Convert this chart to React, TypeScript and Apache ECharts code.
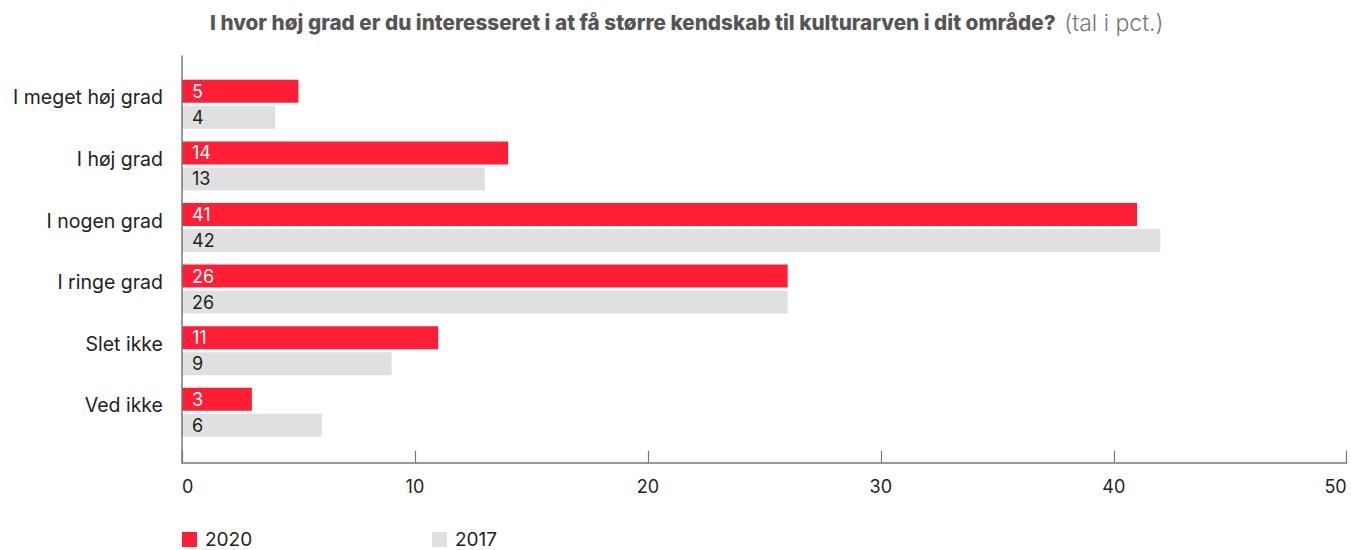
import React, { useEffect, useRef } from "react";
import * as echarts from "echarts";

const categories = [
  "I meget høj grad",
  "I høj grad",
  "I nogen grad",
  "I ringe grad",
  "Slet ikke",
  "Ved ikke",
];
const values2020 = [5, 14, 41, 26, 11, 3];
const values2017 = [4, 13, 42, 26, 9, 6];
const seriesNames = ["2020", "2017"];
const xMin = 0;
const xMax = 50;
const xInterval = 10;

const FONT = "Inter";

export default function App() {
  const ref = useRef<HTMLDivElement>(null);
  useEffect(() => {
    if (!ref.current) return;
    const chart = echarts.init(ref.current, undefined, { renderer: "svg" });
    const axisColor = "#777";
    chart.setOption({
      animation: false,
      textStyle: { fontFamily: FONT },
      title: {
        left: 210,
        top: 11,
        padding: 0,
        text: "{b|I hvor høj grad er du interesseret i at få større kendskab til kulturarven i dit område?}  {r|(tal i pct.)}",
        textStyle: {
          rich: {
            b: { fontFamily: FONT, fontWeight: 800, fontSize: 20.7, color: "#555" },
            r: { fontFamily: FONT, fontWeight: 300, fontSize: 23, color: "#777" },
          },
        },
      },
      legend: {
        left: 182,
        top: 530,
        padding: 0,
        icon: "rect",
        itemWidth: 15,
        itemHeight: 15,
        itemGap: 167,
        data: seriesNames,
        textStyle: {
          fontFamily: FONT,
          fontSize: 19,
          lineHeight: 16,
          color: "#222",
          width: 60,
          padding: [0, 0, 0, 3],
        },
      },
      grid: [
        { left: 182, right: 4.3, top: 73.5, height: 369.6 },
        { left: 182, right: 4.3, top: 56, height: 406.7 },
      ],
      xAxis: [
        {
          gridIndex: 0,
          type: "value",
          min: xMin,
          max: xMax,
          interval: xInterval,
          show: false,
          splitLine: { show: false },
        },
        {
          gridIndex: 1,
          type: "value",
          min: xMin,
          max: xMax,
          interval: xInterval,
          z: 5,
          axisLine: { show: true, lineStyle: { color: axisColor, width: 1.5 } },
          axisTick: { show: true, inside: true, length: 12, lineStyle: { color: axisColor, width: 1.2 } },
          splitLine: { show: false },
          axisLabel: {
            margin: 15,
            fontSize: 18,
            color: "#222",
            fontFamily: FONT,
            alignMinLabel: "left",
            alignMaxLabel: "right",
          },
        },
      ],
      yAxis: [
        {
          gridIndex: 0,
          type: "category",
          data: categories,
          inverse: true,
          axisLine: { show: false },
          axisTick: { show: false },
          splitLine: { show: false },
          axisLabel: {
            margin: 19,
            fontSize: 19.5,
            color: "#222",
            fontFamily: FONT,
            verticalAlign: "bottom",
            lineHeight: 14,
          },
        },
        {
          gridIndex: 1,
          type: "value",
          min: 0,
          max: 1,
          z: 5,
          axisLine: { show: true, lineStyle: { color: axisColor, width: 1.5 } },
          axisTick: { show: false },
          axisLabel: { show: false },
          splitLine: { show: false },
        },
      ],
      series: [
        {
          name: seriesNames[0],
          type: "bar",
          xAxisIndex: 0,
          yAxisIndex: 0,
          data: values2020,
          barWidth: 23,
          barGap: "13%",
          itemStyle: { color: "#fe1f36" },
          label: {
            show: true,
            position: "insideLeft",
            distance: 10,
            color: "#fff",
            fontSize: 18,
            fontFamily: FONT,
          },
        },
        {
          name: seriesNames[1],
          type: "bar",
          xAxisIndex: 0,
          yAxisIndex: 0,
          data: values2017,
          barWidth: 23,
          barGap: "13%",
          itemStyle: { color: "#e0e0e0" },
          label: {
            show: true,
            position: "insideLeft",
            distance: 10,
            color: "#222",
            fontSize: 18,
            fontFamily: FONT,
          },
        },
      ],
    });
    return () => chart.dispose();
  }, []);
  return (
    <div
      ref={ref}
      style={{ position: "fixed", left: 0, top: 0, width: 1351, height: 550, background: "#fff" }}
    />
  );
}
